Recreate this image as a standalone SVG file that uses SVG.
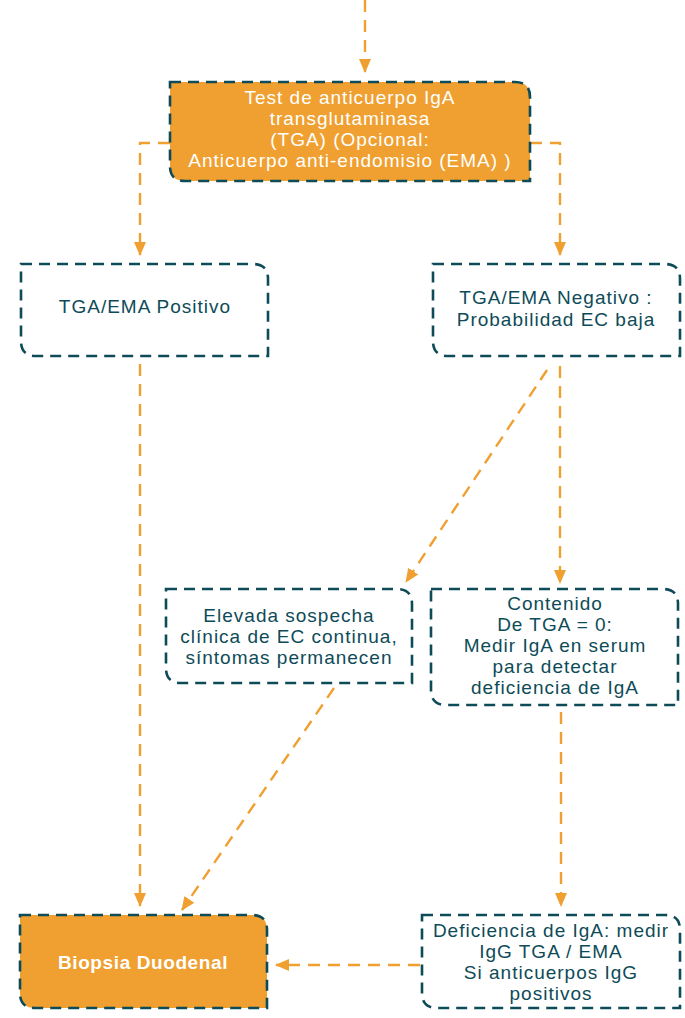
<svg xmlns="http://www.w3.org/2000/svg" width="685" height="1018" viewBox="0 0 685 1018">
<style>
.box{fill:#fff;stroke:#0E4B58;stroke-width:2.6;stroke-dasharray:11 7}
.fill{fill:#EFA030}
.t{font-family:"Liberation Sans",Arial,sans-serif;font-size:19px;letter-spacing:1px;fill:#0E4B58;text-anchor:middle}
.w{fill:#fff}
.b{font-weight:bold;font-size:19px;letter-spacing:0.6px}
.c{fill:none;stroke:#EFA030;stroke-width:2.4;stroke-dasharray:12 8}
</style>
<defs>
<marker id="ah" markerUnits="userSpaceOnUse" markerWidth="14" markerHeight="14" viewBox="0 0 14 14" refX="13" refY="7" orient="auto">
<path d="M0,1 L14,7 L0,13 z" fill="#EFA030"/>
</marker>
</defs>
<g id="connectors">
<path class="c" d="M365,0 V72" marker-end="url(#ah)"/>
<path class="c" d="M170,143 H140 V255" marker-end="url(#ah)"/>
<path class="c" d="M530,143 H560 V255" marker-end="url(#ah)"/>
<path class="c" d="M140,364 V906" marker-end="url(#ah)"/>
<path class="c" d="M547,370 L406,582" marker-end="url(#ah)"/>
<path class="c" d="M560,366 V583" marker-end="url(#ah)"/>
<path class="c" d="M334,688 L182,910" marker-end="url(#ah)"/>
<path class="c" d="M561,712 V906" marker-end="url(#ah)"/>
<path class="c" d="M420,965 H276" marker-end="url(#ah)"/>
</g>
<g id="n1">
<path class="box fill" d="M170,82 H515 Q530,82 530,97 V181 H185 Q170,181 170,166 Z"/>
<text class="t w" x="350" y="104">Test de anticuerpo IgA</text>
<text class="t w" x="350" y="125">transglutaminasa</text>
<text class="t w" x="350" y="146">(TGA) (Opcional:</text>
<text class="t w" x="350" y="167">Anticuerpo anti-endomisio (EMA) )</text>
</g>
<g id="n2">
<path class="box" d="M21,264 H253 Q268,264 268,279 V356 H36 Q21,356 21,341 Z"/>
<text class="t" x="145" y="313">TGA/EMA Positivo</text>
</g>
<g id="n3">
<path class="box" d="M433,264 H665 Q680,264 680,279 V356 H448 Q433,356 433,341 Z"/>
<text class="t" x="556" y="304">TGA/EMA Negativo :</text>
<text class="t" x="556" y="326">Probabilidad EC baja</text>
</g>
<g id="n4">
<path class="box" d="M166,589 H397 Q412,589 412,604 V683 H181 Q166,683 166,668 Z"/>
<text class="t" x="289" y="622">Elevada sospecha</text>
<text class="t" x="289" y="643">clínica de EC continua,</text>
<text class="t" x="289" y="664">síntomas permanecen</text>
</g>
<g id="n5">
<path class="box" d="M431,589 H663 Q678,589 678,604 V705 H446 Q431,705 431,690 Z"/>
<text class="t" x="555" y="610">Contenido</text>
<text class="t" x="555" y="631">De TGA = 0:</text>
<text class="t" x="555" y="652">Medir IgA en serum</text>
<text class="t" x="555" y="673">para detectar</text>
<text class="t" x="555" y="694">deficiencia de IgA</text>
</g>
<g id="n6">
<path class="box" d="M422,915 H665 Q680,915 680,930 V1008 H437 Q422,1008 422,993 Z"/>
<text class="t" x="551" y="937">Deficiencia de IgA: medir</text>
<text class="t" x="551" y="958">IgG TGA / EMA</text>
<text class="t" x="551" y="979">Si anticuerpos IgG</text>
<text class="t" x="551" y="1000">positivos</text>
</g>
<g id="n7">
<path class="box fill" d="M20,915 H252 Q267,915 267,930 V1008 H35 Q20,1008 20,993 Z"/>
<text class="t w b" x="143" y="969">Biopsia Duodenal</text>
</g>
</svg>
